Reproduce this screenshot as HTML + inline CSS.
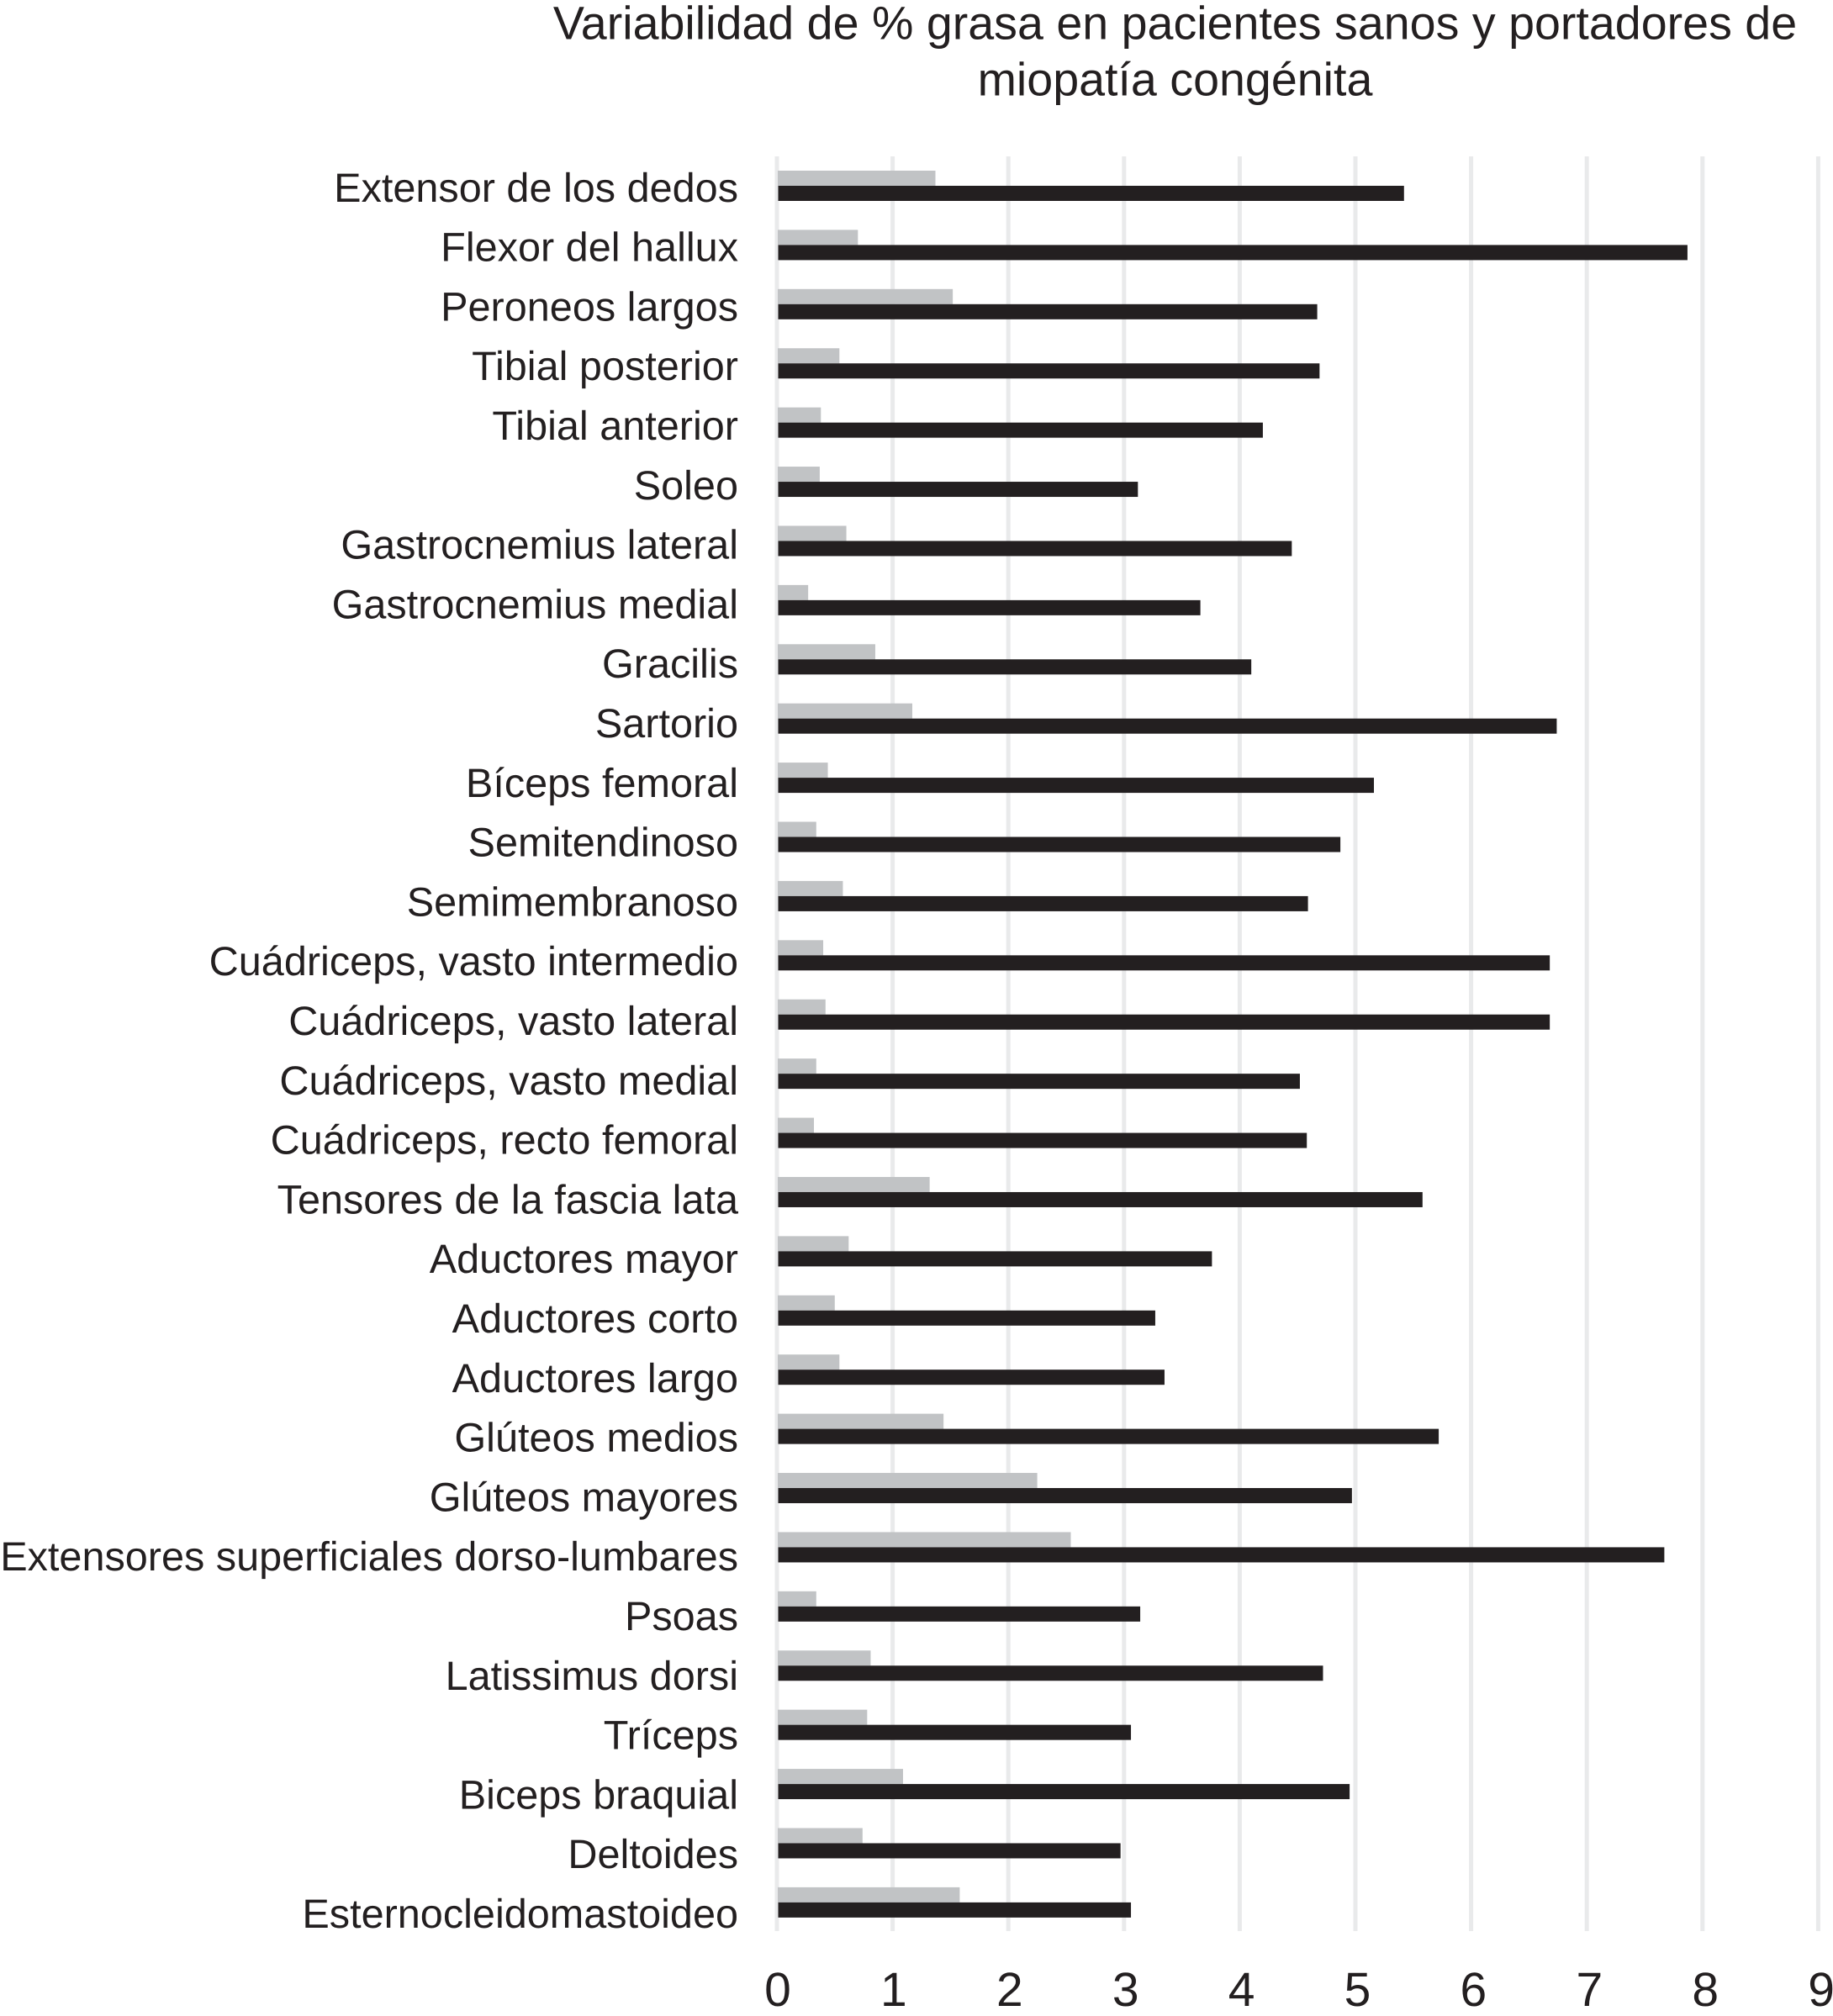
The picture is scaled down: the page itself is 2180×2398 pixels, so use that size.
<!DOCTYPE html>
<html lang="es">
<head>
<meta charset="utf-8">
<title>Variabilidad de % grasa</title>
<style>
html,body{margin:0;padding:0;background:#fff;width:2180px;height:2398px;overflow:hidden}
svg{display:block}
text{font-family:"Liberation Sans",sans-serif;fill:#231f20;text-rendering:geometricPrecision}
</style>
</head>
<body>
<svg id="chart" xmlns="http://www.w3.org/2000/svg" width="2180" height="2398" viewBox="0 0 2180 2398">
<rect x="0" y="0" width="2180" height="2398" fill="#ffffff"/>
<g>
<text x="1397.5" y="46.5" font-size="55.6" text-anchor="middle">Variabilidad de % grasa en pacientes sanos y portadores de</text>
<text x="1397.5" y="113.5" font-size="55.6" text-anchor="middle">miopatía congénita</text>
</g>
<g id="grid"></g>
<g id="bars"></g>
<g id="labels"></g>
<g id="ticks"></g>
</svg>
<script>
const categories = ["Extensor de los dedos","Flexor del hallux","Peroneos largos","Tibial posterior","Tibial anterior","Soleo","Gastrocnemius lateral","Gastrocnemius medial","Gracilis","Sartorio","Bíceps femoral","Semitendinoso","Semimembranoso","Cuádriceps, vasto intermedio","Cuádriceps, vasto lateral","Cuádriceps, vasto medial","Cuádriceps, recto femoral","Tensores de la fascia lata","Aductores mayor","Aductores corto","Aductores largo","Glúteos medios","Glúteos mayores","Extensores superficiales dorso-lumbares","Psoas","Latissimus dorsi","Tríceps","Biceps braquial","Deltoides","Esternocleidomastoideo"];
const healthyValues = [1.37,0.70,1.52,0.54,0.38,0.37,0.60,0.27,0.85,1.17,0.44,0.34,0.57,0.40,0.42,0.34,0.32,1.32,0.62,0.50,0.54,1.44,2.25,2.54,0.34,0.81,0.78,1.09,0.74,1.58];
const patientValues = [5.42,7.87,4.67,4.69,4.20,3.12,4.45,3.66,4.10,6.74,5.16,4.87,4.59,6.68,6.68,4.52,4.58,5.58,3.76,3.27,3.35,5.72,4.97,7.67,3.14,4.72,3.06,4.95,2.97,3.06];
const tickLabels = [0,1,2,3,4,5,6,7,8,9];

const NS = "http://www.w3.org/2000/svg";
function x(v){ return 924 + v * 137.6; }
function tickX(v){ return 925 + v * 137.9; }
function barY(i){ return 230 + i * 70.41; }
function labelY(i){ return 239.8 + i * 70.8; }
function make(tag, attrs, parent){
  const el = document.createElementNS(NS, tag);
  for (const k in attrs) el.setAttribute(k, attrs[k]);
  parent.appendChild(el);
  return el;
}
const gridG = document.getElementById("grid");
const barsG = document.getElementById("bars");
const labelsG = document.getElementById("labels");
const ticksG = document.getElementById("ticks");

tickLabels.forEach(function(t){
  const line = make("rect", {x: x(t) - 2.5, y: 186, width: 5, height: 2111, fill: "#e9eaeb"}, gridG);
  
  
  const label = make("text", {x: tickX(t), y: 2386, "font-size": 57, "text-anchor": "middle"}, ticksG);
  
  
  label.textContent = t;
});

categories.forEach(function(name, i){
  const cy = barY(i);
  const gray = make("rect", {x: x(0) + 1, y: cy - 27, width: x(healthyValues[i]) - x(0) - 1, height: 18, fill: "#c1c3c5"}, barsG);
  
  
  const dark = make("rect", {x: x(0) + 1.5, y: cy - 9, width: x(patientValues[i]) - x(0) - 1.5, height: 18, fill: "#231f20"}, barsG);
  
  
  const label = make("text", {x: 878, y: labelY(i), "font-size": 48.6, "text-anchor": "end"}, labelsG);
  
  
  label.textContent = name;
});
</script>
</body>
</html>
